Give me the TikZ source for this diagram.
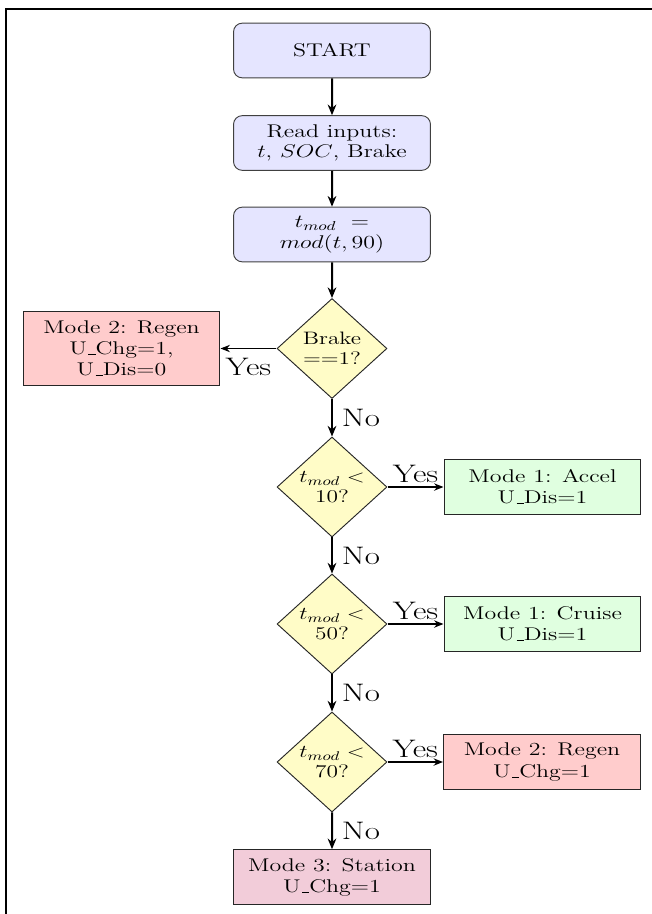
\RequirePackage{fix-cm}
\documentclass[tikz,border=0pt]{standalone}
\usetikzlibrary{shapes.geometric,arrows.meta}
\newcommand\uscore{\leavevmode\kern.06em\vbox{\hrule width.3em}}
\tikzset{
  sx/.style={xscale=1.3},
  roundbox/.style={sx, rectangle, draw=black!75, line width=0.7pt, fill=blue!10, rounded corners=6.5pt,
    minimum width=113.6pt, minimum height=41pt, align=center, inner sep=2pt, font=\fontsize{13.8}{15.5}\selectfont},
  decision/.style={sx, diamond, draw=black!85, line width=0.7pt, fill=yellow!22, aspect=0.85,
    minimum width=63.5pt, minimum height=75pt, inner sep=0pt, align=center, font=\fontsize{13.5}{14.8}\selectfont},
  modebox/.style={sx, rectangle, draw=black!85, line width=0.7pt, minimum width=113.6pt, minimum height=41pt,
    align=center, inner sep=2pt, font=\fontsize{13.8}{15.8}\selectfont},
  regenfill/.style={fill=red!20},
  accelfill/.style={fill=green!12},
  stationfill/.style={fill=purple!20},
  lbl/.style={sx, font=\fontsize{19}{21}\selectfont, inner sep=1pt},
  varrow/.style={-{Stealth[length=8pt,width=6.5pt]}, line width=1.5pt},
  harrow/.style={-{Stealth[length=7pt,width=5.5pt]}, line width=1pt},
  frameline/.style={line width=1.5pt},
}
\begin{document}
\begin{tikzpicture}[x=0.75pt, y=-0.75pt]
\useasboundingbox (0,0) rectangle (651,914);
\coordinate (fbl) at (6,930);
\coordinate (ftl) at (6,9.3);
\coordinate (ftr) at (670,9.3);
\draw[frameline] (fbl) -- (ftl) -- (ftr);

\node[roundbox] (start) at (332,50.5) {START};
\node[roundbox] (read) at (332,143) {Read inputs:\\ $t$, $SOC$, Brake};
\node[roundbox] (tmod) at (332,234.5) {$t_{mod}\ =$\\ $mod(t,90)$};

\node[decision] (d1) at (332,348.5) {Brake\\ ==1?};
\node[modebox, regenfill, minimum height=55.5pt] (regenA) at (121.5,348.5) {Mode 2: Regen\\ U\uscore Chg=1,\\ U\uscore Dis=0};

\node[decision] (d2) at (332,487) {$t_{mod}<$\\ 10?};
\node[modebox, accelfill] (accel) at (542.5,487) {Mode 1: Accel\\ U\uscore Dis=1};

\node[decision] (d3) at (332,624) {$t_{mod}<$\\ 50?};
\node[modebox, accelfill] (cruise) at (542.5,624) {Mode 1: Cruise\\ U\uscore Dis=1};

\node[decision] (d4) at (332,762) {$t_{mod}<$\\ 70?};
\node[modebox, regenfill] (regenB) at (542,762) {Mode 2: Regen\\ U\uscore Chg=1};

\node[modebox, stationfill] (station) at (332,877) {Mode 3: Station\\ U\uscore Chg=1};

\draw[varrow] (start) -- (read);
\draw[varrow] (read) -- (tmod);
\draw[varrow] (tmod) -- (d1);
\draw[varrow] (d1) -- node[lbl, right=4pt] {No} (d2);
\draw[varrow] (d2) -- node[lbl, right=4pt] {No} (d3);
\draw[varrow] (d3) -- node[lbl, right=4pt] {No} (d4);
\draw[varrow] (d4) -- node[lbl, right=4pt] {No} (station);

\draw[harrow] (d1) -- node[lbl, below=6pt] {Yes} (regenA);
\draw[harrow] (d2) -- node[lbl, above=2pt] {Yes} (accel);
\draw[harrow] (d3) -- node[lbl, above=2pt] {Yes} (cruise);
\draw[harrow] (d4) -- node[lbl, above=2pt] {Yes} (regenB);
\end{tikzpicture}
\end{document}
